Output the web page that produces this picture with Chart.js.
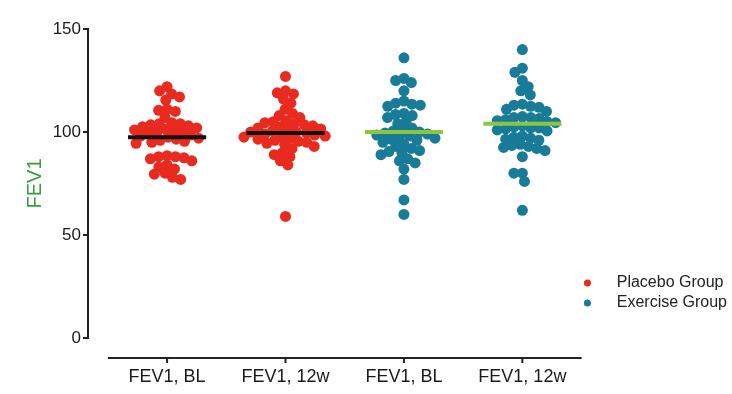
<!DOCTYPE html>
<html lang="en">
<head>
<meta charset="UTF-8">
<title>FEV1 by group</title>
<script src="https://cdn.jsdelivr.net/npm/chart.js@4.4.1/dist/chart.umd.min.js"></script>
<style>
  html, body { margin: 0; padding: 0; background: #ffffff; }
  #wrap { width: 732px; height: 394px; }
</style>
</head>
<body>
<div id="wrap"><canvas id="chart" width="732" height="394"></canvas></div>
<script>
const groupLabels = ['FEV1, BL', 'FEV1, 12w', 'FEV1, BL', 'FEV1, 12w'];
const yTicks = [0, 50, 100, 150];

// values, one list per column
const placeboBL = [122, 120, 118.5, 117, 115.5, 111, 110.5, 110, 107, 104.5, 104, 104, 103.5, 103, 102.5, 102, 101.5, 101, 100.5, 100, 99.5, 99, 98.5, 98, 97.5, 97, 96.5, 96, 95.5, 95, 94.5, 88.5, 88, 88, 87.5, 87, 86, 84, 83, 82, 80, 79.5, 78, 77];
const placebo12w = [127, 120, 119, 118.5, 116, 114, 111, 109, 108, 107, 105.5, 105, 104.5, 104, 103.5, 103, 102.5, 102, 101.5, 101, 100.5, 100, 100, 99.5, 99, 98.5, 98, 98, 97.5, 97, 96.5, 96, 95.5, 95, 94.5, 94, 93, 92, 90, 89, 88, 86, 84, 59];
const exerciseBL = [136, 126, 125, 124, 120, 115, 114, 113.5, 113, 112.5, 109, 108.5, 108, 107, 105, 104, 102, 101, 100.5, 100, 99.5, 99, 98.5, 98, 97.5, 97, 96.5, 96, 95, 94, 93, 92, 91, 90.5, 90, 89, 87, 86, 85, 82, 77, 67, 60];
const exercise12w = [140, 131, 129, 125, 122, 120, 118, 113.5, 113, 112.5, 112, 111, 110, 107.5, 107, 107, 106.5, 106, 105.5, 105, 104.5, 103, 102.5, 102, 102, 101.5, 101, 100.5, 98, 97.5, 97, 96.5, 96, 94, 93.5, 93, 92.5, 92, 91, 88, 80, 80, 76, 62];
const groupMeans = [97.5, 99.5, 100, 104];

const RED = '#e92a1f';
const TEAL = '#187b98';
const meanColors = ['#111111', '#111111', '#8cc63f', '#8cc63f'];

function meanSegment(i) {
    return [{ x: i + 1 - 0.33, y: groupMeans[i] }, { x: i + 1 + 0.33, y: groupMeans[i] }];
}

function centered(values, pos) {
    return values.map(v => ({ x: pos, y: v }));
}

// separate x axis line with small ticks, like the original plot
const xAxisLine = {
    id: 'xAxisLine',
    afterDraw(chart) {
        const { ctx, chartArea } = chart;
        const x = chart.scales.x;
        const y = chartArea.bottom + 20;
        ctx.save();
        ctx.strokeStyle = '#222';
        ctx.lineWidth = 2;
        ctx.beginPath();
        ctx.moveTo(x.getPixelForValue(0.5), y);
        ctx.lineTo(x.getPixelForValue(4.5), y);
        groupLabels.forEach((_, i) => {
            const px = x.getPixelForValue(i + 1);
            ctx.moveTo(px, y);
            ctx.lineTo(px, y + 5);
        });
        ctx.stroke();
        ctx.restore();
    }
};

// keep the legend low on the right side
const legendPin = {
    id: 'legendPin',
    afterLayout(chart) {
        const lg = chart.legend;
        lg.bottom = chart.chartArea.bottom - 23;
        lg.left += 5;
        lg.right += 5;
    }
};

const datasets = groupMeans.map((m, i) => ({
    type: 'line',
    label: '',
    data: meanSegment(i),
    borderColor: meanColors[i],
    borderWidth: 4,
    pointRadius: 0,
    order: 0
}));
datasets.push({
    type: 'scatter',
    label: 'Placebo Group',
    data: centered(placeboBL, 1).concat(centered(placebo12w, 2)),
    backgroundColor: RED,
    pointRadius: 5.5,
    pointBorderWidth: 0,
    order: 1
});
datasets.push({
    type: 'scatter',
    label: 'Exercise Group',
    data: centered(exerciseBL, 3).concat(centered(exercise12w, 4)),
    backgroundColor: TEAL,
    pointRadius: 5.5,
    pointBorderWidth: 0,
    order: 1
});

const chart = new Chart(document.getElementById('chart'), {
    type: 'scatter',
    data: { datasets: datasets },
    plugins: [xAxisLine, legendPin],
    options: {
        responsive: false,
        animation: false,
        devicePixelRatio: 1,
        layout: { padding: { top: 29, right: 0, bottom: 0, left: 0 } },
        plugins: {
            tooltip: { enabled: false },
            legend: {
                position: 'right',
                align: 'end',
                labels: {
                    usePointStyle: true,
                    pointStyle: 'circle',
                    boxWidth: 7,
                    boxHeight: 5,
                    padding: 4,
                    color: '#222',
                    font: { family: 'Arial', size: 16 },
                    generateLabels: c => Chart.defaults.plugins.legend.labels.generateLabels(c)
                        .filter(it => c.data.datasets[it.datasetIndex].type === 'scatter')
                        .map(it => Object.assign(it, { text: '    ' + it.text }))
                }
            }
        },
        scales: {
            x: {
                type: 'linear',
                min: 0.3324,
                max: 4.444,
                afterBuildTicks: s => { s.ticks = groupLabels.map((_, i) => ({ value: i + 1 })); },
                afterFit: s => { s.height = 56; },
                ticks: {
                    callback: v => groupLabels[Math.round(v) - 1],
                    padding: 28,
                    autoSkip: false,
                    maxRotation: 0,
                    color: '#1a1a1a',
                    font: { family: 'Arial', size: 18 }
                },
                grid: { display: false, drawTicks: false },
                border: { display: false }
            },
            y: {
                min: 0,
                max: 150,
                afterBuildTicks: s => { s.ticks = yTicks.map(v => ({ value: v })); },
                afterFit: s => { s.width = 88; },
                ticks: {
                    padding: 2,
                    color: '#1a1a1a',
                    font: { family: 'Arial', size: 17 }
                },
                grid: { display: true, drawOnChartArea: false, drawTicks: true, tickLength: 5, color: '#222', lineWidth: 2 },
                border: { display: true, color: '#222', width: 2 },
                title: {
                    display: true,
                    text: 'FEV1',
                    color: '#35a03f',
                    font: { family: 'Arial', size: 20 },
                    padding: { top: 23, bottom: 0 }
                }
            }
        }
    }
});

// spread each column sideways so the dots do not overlap too much (beeswarm)
function swarm(values, pos) {
    const xs = chart.scales.x, ys = chart.scales.y;
    const cx = xs.getPixelForValue(pos);
    const gap = 8.5;
    const placed = [];
    const out = [];
    let flip = 1;
    values.slice().sort((a, b) => b - a).forEach(v => {
        const py = ys.getPixelForValue(v);
        const blocks = [];
        placed.forEach(p => {
            const dy = Math.abs(p.y - py);
            if (dy < gap) {
                const w = Math.sqrt(gap * gap - dy * dy);
                blocks.push([p.x - w, p.x + w]);
            }
        });
        const cands = [0];
        blocks.forEach(b => cands.push(b[0], b[1]));
        const free = cands.filter(c => blocks.every(b => c <= b[0] + 1e-6 || c >= b[1] - 1e-6));
        free.sort((a, b) => (Math.abs(a) - Math.abs(b)) || (a - b) * flip);
        const off = free[0];
        if (off !== 0) flip = -flip;
        placed.push({ x: off, y: py });
        out.push({ x: xs.getValueForPixel(cx + off), y: v });
    });
    return out;
}

chart.data.datasets[4].data = swarm(placeboBL, 1).concat(swarm(placebo12w, 2));
chart.data.datasets[5].data = swarm(exerciseBL, 3).concat(swarm(exercise12w, 4));
chart.update('none');
</script>
</body>
</html>
